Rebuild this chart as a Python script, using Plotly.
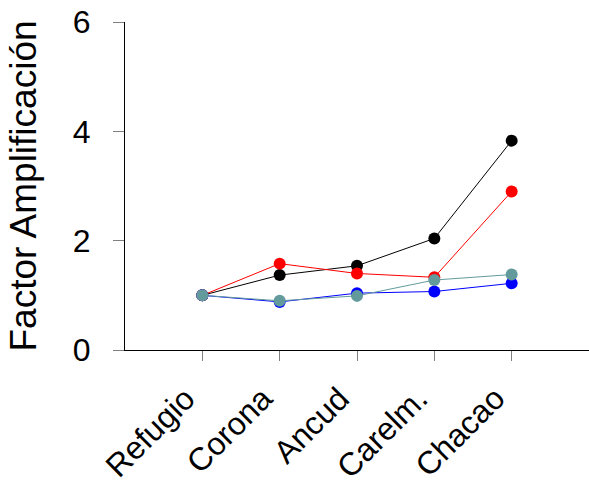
import plotly.graph_objects as go

categories = ["Refugio", "Corona", "Ancud", "Carelm.", "Chacao"]
positions = [1, 2, 3, 4, 5]
series_black = [1.00, 1.37, 1.54, 2.04, 3.83]
series_red = [1.00, 1.58, 1.40, 1.33, 2.90]
series_blue = [1.00, 0.88, 1.04, 1.07, 1.22]
series_teal = [1.00, 0.90, 0.99, 1.28, 1.38]
y_ticks = [0, 2, 4, 6]

fig = go.Figure()
for vals, col in [(series_black, "black"), (series_red, "red"),
                  (series_blue, "blue"), (series_teal, "#639A9C")]:
    fig.add_trace(go.Scatter(x=positions, y=vals, mode="lines+markers",
                             line=dict(color=col, width=1),
                             marker=dict(color=col, size=12),
                             showlegend=False))

font = dict(family="Liberation Sans, Arial, sans-serif", size=32, color="black")
fig.update_layout(
    width=589, height=494,
    margin=dict(l=125, r=0, t=22, b=144),
    plot_bgcolor="white", paper_bgcolor="white",
    font=font,
)
# category labels as rotated annotations anchored at the tick positions
for pos, lab in zip(positions, categories):
    fig.add_annotation(x=pos, xref="x", y=0, yref="paper", text=lab,
                       showarrow=False, textangle=-45,
                       xanchor="right", yanchor="top",
                       xshift=1, yshift=-29, borderpad=0,
                       font=dict(size=32, color="black"))
fig.update_xaxes(range=[0, 6], tickvals=positions, showticklabels=False,
                 showline=True, linecolor="black", linewidth=1,
                 ticks="outside", ticklen=10, tickcolor="gray",
                 showgrid=False, zeroline=False)
fig.update_yaxes(range=[0, 6], tickvals=y_ticks, showline=True,
                 linecolor="black", linewidth=1, ticks="outside", ticklen=11,
                 tickcolor="gray", showgrid=False, zeroline=False,
                 tickfont=dict(size=32),
                 ticklabelstandoff=16,
                 title=dict(text="Factor Amplificación", standoff=24,
                            font=dict(size=37)))

fig.write_html("out.html")
